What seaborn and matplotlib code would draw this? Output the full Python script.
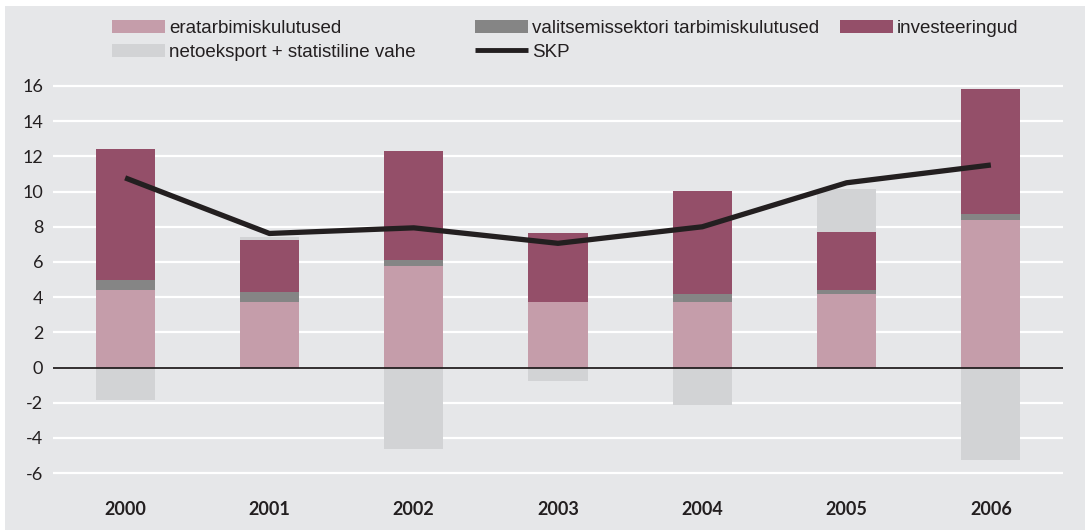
import numpy as np
import pandas as pd
import matplotlib.pyplot as plt
from matplotlib.patches import Patch, Rectangle
from matplotlib.lines import Line2D
import seaborn as sns

# data (percentage points)
years = ['2000', '2001', '2002', '2003', '2004', '2005', '2006']
eratarbimine = [4.40, 3.72, 5.77, 3.72, 3.72, 4.18, 8.38]
valitsemissektor = [0.57, 0.57, 0.34, 0.0, 0.46, 0.22, 0.34]
investeeringud = [7.44, 2.95, 6.19, 3.90, 5.85, 3.30, 7.10]
netoeksport = [-1.84, 0.19, -4.63, -0.79, -2.14, 2.44, -5.26]
skp = [10.78, 7.62, 7.94, 7.06, 8.00, 10.50, 11.51]

labels = ['eratarbimiskulutused', 'valitsemissektori tarbimiskulutused',
          'investeeringud', 'netoeksport + statistiline vahe', 'SKP']

c_era = '#c59daa'
c_val = '#858585'
c_inv = '#944f69'
c_neto = '#d2d3d5'
c_line = '#231f20'
bg = '#e6e7e9'

sns.set_theme(style='white')
plt.rcParams['font.family'] = ['Liberation Sans', 'DejaVu Sans']
plt.rcParams['axes.unicode_minus'] = False

df = pd.DataFrame({'year': years, 'era': eratarbimine, 'val': valitsemissektor,
                   'inv': investeeringud, 'neto': netoeksport, 'skp': skp})
df['b_val'] = df['era']
df['b_inv'] = df['era'] + df['val']
pos_total = df['era'] + df['val'] + df['inv']
df['b_neto'] = np.where(df['neto'] > 0, pos_total, 0.0)

fig = plt.figure(figsize=(10.85, 5.31), dpi=100, facecolor='white')
fig.patches.append(Rectangle((5 / 1085, 1 / 531), 1080 / 1085, 524 / 531,
                             transform=fig.transFigure, facecolor=bg,
                             edgecolor='none', zorder=-10))
ax = fig.add_axes([53 / 1085, 0.0957, 1010 / 1085, 0.7556])
ax.set_facecolor(bg)

w = 0.41
kw = dict(x='year', width=w, saturation=1, errorbar=None, ax=ax, zorder=3,
          edgecolor='none', linewidth=0)
sns.barplot(data=df, y='era', color=c_era, **kw)
sns.barplot(data=df, y='val', bottom=df['b_val'], color=c_val, **kw)
sns.barplot(data=df, y='inv', bottom=df['b_inv'], color=c_inv, **kw)
sns.barplot(data=df, y='neto', bottom=df['b_neto'], color=c_neto, **kw)

sns.lineplot(x=np.arange(len(years)), y=df['skp'], color=c_line, lw=3.8,
             ax=ax, zorder=5, legend=False, solid_capstyle='butt')

ax.axhline(0, color=c_line, lw=1.3, zorder=4)
ax.set_ylim(-6.4, 16.4)
ax.set_xlim(-0.5, 6.5)
ax.set_yticks(range(-6, 17, 2))
ax.yaxis.grid(True, color='white', lw=1.6, zorder=0)
ax.set_axisbelow(True)
for s in ax.spines.values():
    s.set_visible(False)
ax.tick_params(axis='both', length=0)
ax.tick_params(axis='y', pad=7)
ax.tick_params(axis='x', pad=15)
ax.set_xlabel('')
ax.set_ylabel('')
for t in ax.get_yticklabels():
    t.set_fontfamily('Lato')
    t.set_fontsize(13)
    t.set_color(c_line)
for t in ax.get_xticklabels():
    t.set_fontfamily('Lato')
    t.set_fontsize(13)
    t.set_fontweight('bold')
    t.set_color(c_line)

# legend, three columns placed separately
h_era = Patch(facecolor=c_era, edgecolor='none')
h_val = Patch(facecolor=c_val, edgecolor='none')
h_inv = Patch(facecolor=c_inv, edgecolor='none')
h_neto = Patch(facecolor=c_neto, edgecolor='none')
h_skp = Line2D([], [], color=c_line, lw=3.5, solid_capstyle='butt')

cols = [([h_era, h_neto], [labels[0], labels[3]], 112),
        ([h_val, h_skp], [labels[1], labels[4]], 475),
        ([h_inv], [labels[2]], 840)]
for hs, ls, x0 in cols:
    leg = fig.legend(hs, ls, loc='upper left', bbox_to_anchor=(x0 / 1085, 1 - 20 / 531),
                     frameon=False, fontsize=13.5, handlelength=2.85, handleheight=0.7,
                     handletextpad=0.2, labelspacing=0.35, borderpad=0, borderaxespad=0)
    for t in leg.get_texts():
        t.set_color(c_line)

fig.savefig('out.png', dpi=100, facecolor='white')
